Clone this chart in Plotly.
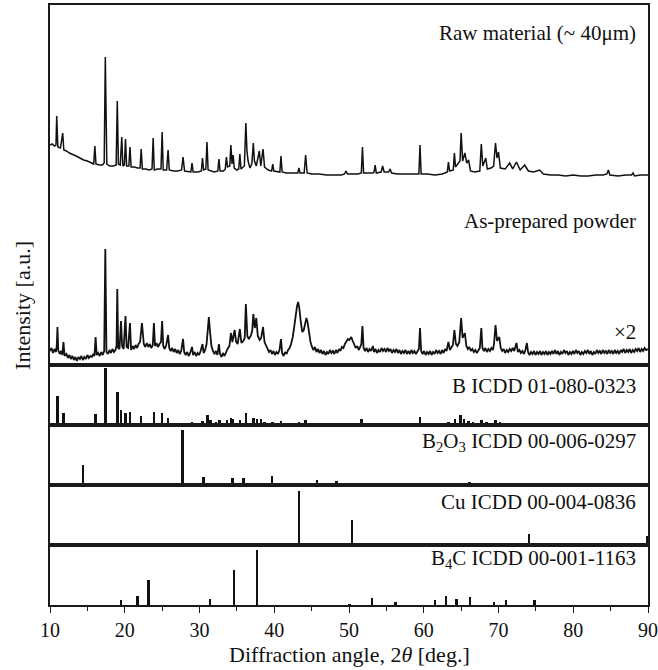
import plotly.graph_objects as go
from plotly.subplots import make_subplots

# ---------------------------------------------------------------------------
# Measured XRD patterns: (2theta [deg], intensity [a.u.]) on a common offset scale
# ---------------------------------------------------------------------------
RAW_MATERIAL = [
    (10.0, 221), (10.3, 222), (10.6, 220), (10.8, 221), (10.9, 250), (11.05, 219),
    (11.4, 218), (11.7, 233), (11.85, 216), (12.2, 215), (12.6, 213), (13.0, 212),
    (13.5, 210), (14.0, 208), (14.5, 206), (15.0, 205), (15.5, 203), (15.85, 202),
    (16.0, 220), (16.15, 202), (16.6, 201), (17.0, 201), (17.25, 203), (17.4, 309),
    (17.6, 202), (18.0, 200), (18.5, 200), (18.85, 201), (19.0, 265), (19.15, 202),
    (19.4, 201), (19.6, 229), (19.75, 200), (19.95, 201), (20.1, 227), (20.25, 200),
    (20.55, 200), (20.7, 219), (20.85, 199), (21.3, 199), (21.7, 198), (22.05, 198),
    (22.2, 217), (22.35, 197), (22.8, 197), (23.3, 196), (23.65, 197), (23.8, 228),
    (23.95, 196), (24.4, 197), (24.85, 197), (25.0, 234), (25.15, 196), (25.6, 196),
    (25.8, 216), (25.95, 196), (26.5, 195), (27.1, 195), (27.6, 196), (27.8, 209),
    (28.0, 195), (28.5, 194), (28.85, 194), (29.0, 203), (29.15, 194), (29.8, 194),
    (30.25, 195), (30.4, 208), (30.55, 196), (30.85, 197), (31.0, 224), (31.15, 196),
    (31.6, 195), (32.0, 194), (32.45, 195), (32.6, 207), (32.75, 195), (33.2, 195),
    (33.45, 197), (33.6, 209), (33.75, 199), (34.05, 200), (34.2, 221), (34.35, 202),
    (34.5, 211), (34.65, 198), (35.0, 196), (35.25, 197), (35.4, 212), (35.55, 197),
    (36.0, 200), (36.2, 243), (36.35, 215), (36.5, 205), (36.75, 198), (37.0, 202),
    (37.2, 223), (37.35, 205), (37.6, 200), (38.0, 215), (38.2, 200), (38.5, 217),
    (38.7, 199), (39.2, 196), (39.65, 195), (39.8, 202), (39.95, 195), (40.5, 194),
    (40.75, 194), (40.9, 210), (41.05, 194), (41.6, 193), (42.2, 193), (42.8, 193),
    (43.15, 193), (43.3, 198), (43.45, 193), (44.0, 193), (44.2, 211), (44.4, 193),
    (45.0, 192), (46.0, 192), (47.0, 191), (48.0, 191), (49.0, 191), (49.4, 192),
    (49.6, 195), (49.8, 192), (50.5, 192), (51.2, 192), (51.65, 193), (51.8, 219),
    (51.95, 193), (52.5, 193), (53.2, 193), (53.35, 194), (53.5, 201), (53.65, 193),
    (54.3, 194), (54.5, 200), (54.7, 194), (55.3, 194), (55.5, 197), (55.7, 193),
    (56.5, 192), (57.5, 192), (58.5, 192), (59.35, 192), (59.5, 221), (59.65, 192),
    (60.5, 192), (61.5, 191), (62.5, 192), (63.15, 194), (63.3, 204), (63.45, 195),
    (63.95, 196), (64.1, 213), (64.25, 199), (64.85, 205), (65.0, 233), (65.2, 205),
    (65.5, 213), (65.75, 203), (66.0, 206), (66.25, 195), (66.8, 194), (67.5, 195),
    (67.7, 222), (67.9, 200), (68.3, 208), (68.5, 197), (69.0, 198), (69.35, 200),
    (69.6, 223), (69.8, 208), (70.0, 214), (70.25, 198), (70.9, 197), (71.5, 203),
    (71.9, 197), (72.4, 204), (72.9, 196), (73.5, 201), (74.0, 195), (74.7, 194),
    (75.5, 196), (76.0, 192), (77.0, 191), (78.0, 191), (79.0, 190), (80.0, 191),
    (81.0, 190), (82.0, 190), (83.0, 191), (84.0, 191), (84.5, 192), (84.7, 196),
    (84.9, 191), (86.0, 190), (87.0, 191), (87.8, 191), (88.0, 193), (88.2, 190),
    (89.0, 191), (90.0, 191),
]

AS_PREPARED = [
    (10.0, 15), (10.2, 18), (10.4, 13), (10.6, 17), (10.8, 14), (10.9, 20), (11.0, 39),
    (11.1, 16), (11.3, 12), (11.5, 15), (11.65, 11), (11.8, 24), (11.95, 10), (12.2, 12),
    (12.4, 8), (12.6, 11), (12.8, 7), (13.0, 10), (13.2, 6), (13.4, 9), (13.6, 5),
    (13.8, 9), (14.0, 7), (14.2, 10), (14.4, 6), (14.6, 9), (14.8, 7), (15.0, 11),
    (15.2, 8), (15.4, 10), (15.6, 9), (15.8, 12), (15.95, 10), (16.1, 29), (16.25, 11),
    (16.45, 13), (16.65, 10), (16.85, 14), (17.05, 11), (17.25, 15), (17.4, 117),
    (17.55, 14), (17.75, 12), (17.95, 16), (18.15, 13), (18.35, 17), (18.55, 14),
    (18.75, 16), (18.9, 20), (19.0, 77), (19.12, 18), (19.3, 17), (19.5, 45), (19.65, 20),
    (19.85, 17), (20.1, 50), (20.25, 19), (20.45, 18), (20.7, 43), (20.85, 16),
    (21.05, 20), (21.25, 17), (21.45, 21), (21.65, 18), (21.85, 22), (22.05, 24),
    (22.3, 43), (22.55, 22), (22.75, 19), (22.95, 23), (23.15, 19), (23.35, 22),
    (23.55, 18), (23.75, 21), (23.9, 43), (24.05, 20), (24.25, 23), (24.45, 19),
    (24.65, 22), (24.85, 24), (25.0, 45), (25.15, 20), (25.35, 17), (25.55, 21),
    (25.8, 31), (25.95, 18), (26.15, 15), (26.35, 18), (26.55, 14), (26.75, 17),
    (26.95, 13), (27.15, 16), (27.35, 12), (27.55, 15), (27.8, 27), (27.95, 14),
    (28.15, 11), (28.35, 14), (28.55, 10), (28.75, 13), (29.0, 19), (29.15, 11),
    (29.35, 14), (29.55, 10), (29.75, 13), (29.95, 11), (30.15, 15), (30.4, 22),
    (30.55, 13), (30.75, 16), (30.95, 22), (31.1, 38), (31.25, 49), (31.4, 35),
    (31.6, 20), (31.8, 15), (32.0, 12), (32.2, 15), (32.4, 11), (32.6, 22), (32.75, 12),
    (32.95, 9), (33.15, 13), (33.35, 10), (33.55, 14), (33.75, 17), (34.0, 20),
    (34.2, 33), (34.4, 24), (34.7, 36), (34.9, 24), (35.1, 22), (35.4, 37), (35.6, 23),
    (35.85, 25), (36.05, 28), (36.2, 62), (36.4, 30), (36.6, 27), (36.85, 30),
    (37.05, 35), (37.2, 52), (37.4, 38), (37.6, 48), (37.8, 30), (38.05, 26),
    (38.25, 28), (38.5, 39), (38.7, 24), (38.9, 20), (39.1, 17), (39.3, 14), (39.5, 16),
    (39.7, 12), (39.9, 15), (40.1, 11), (40.3, 14), (40.5, 12), (40.7, 16), (40.9, 27),
    (41.05, 13), (41.25, 10), (41.45, 14), (41.65, 12), (41.85, 16), (42.05, 18),
    (42.25, 22), (42.45, 28), (42.65, 38), (42.85, 50), (43.05, 60), (43.2, 64),
    (43.35, 58), (43.55, 44), (43.75, 34), (43.95, 36), (44.15, 45), (44.3, 48),
    (44.45, 44), (44.65, 32), (44.85, 24), (45.05, 19), (45.25, 16), (45.45, 19),
    (45.65, 14), (45.85, 17), (46.05, 13), (46.25, 16), (46.45, 12), (46.65, 15),
    (46.85, 11), (47.05, 14), (47.25, 12), (47.45, 16), (47.65, 13), (47.85, 15),
    (48.05, 12), (48.25, 16), (48.45, 13), (48.65, 17), (48.85, 15), (49.05, 19),
    (49.25, 18), (49.45, 22), (49.65, 24), (49.85, 27), (50.05, 26), (50.3, 29),
    (50.5, 25), (50.7, 21), (50.9, 18), (51.1, 20), (51.3, 16), (51.5, 19), (51.65, 22),
    (51.8, 40), (51.95, 18), (52.15, 15), (52.35, 18), (52.55, 14), (52.75, 17),
    (52.95, 15), (53.2, 20), (53.35, 14), (53.55, 17), (53.75, 13), (53.95, 16),
    (54.15, 14), (54.35, 18), (54.55, 15), (54.75, 17), (54.95, 14), (55.15, 18),
    (55.35, 15), (55.55, 17), (55.75, 13), (55.95, 16), (56.15, 14), (56.35, 17),
    (56.55, 13), (56.75, 16), (56.95, 12), (57.15, 15), (57.35, 13), (57.55, 16),
    (57.75, 12), (57.95, 15), (58.15, 12), (58.35, 16), (58.55, 13), (58.75, 15),
    (58.95, 12), (59.15, 14), (59.35, 17), (59.5, 38), (59.65, 15), (59.85, 12),
    (60.05, 15), (60.25, 11), (60.45, 14), (60.65, 12), (60.85, 15), (61.05, 11),
    (61.25, 14), (61.45, 12), (61.65, 16), (61.85, 13), (62.05, 15), (62.25, 12),
    (62.45, 16), (62.65, 13), (62.85, 17), (63.05, 15), (63.3, 24), (63.5, 16),
    (63.7, 19), (63.9, 21), (64.1, 36), (64.3, 22), (64.5, 20), (64.75, 24), (65.0, 48),
    (65.2, 28), (65.5, 33), (65.7, 20), (65.9, 17), (66.1, 19), (66.3, 15), (66.5, 17),
    (66.7, 14), (66.9, 16), (67.1, 13), (67.3, 16), (67.5, 18), (67.7, 38), (67.85, 18),
    (68.05, 15), (68.25, 18), (68.45, 14), (68.65, 17), (68.85, 15), (69.05, 18),
    (69.25, 16), (69.4, 22), (69.6, 41), (69.8, 25), (70.1, 29), (70.3, 18), (70.5, 15),
    (70.7, 17), (70.9, 13), (71.1, 16), (71.3, 14), (71.5, 17), (71.7, 15), (71.9, 18),
    (72.1, 15), (72.4, 23), (72.6, 14), (72.8, 16), (73.0, 13), (73.2, 15), (73.4, 12),
    (73.6, 16), (73.8, 23), (73.95, 14), (74.15, 11), (74.35, 14), (74.55, 12),
    (74.75, 15), (74.95, 11), (75.15, 14), (75.35, 12), (75.55, 15), (75.75, 11),
    (75.95, 14), (76.15, 12), (76.35, 15), (76.55, 11), (76.75, 14), (76.95, 12),
    (77.15, 15), (77.35, 12), (77.55, 16), (77.75, 12), (77.95, 15), (78.15, 11),
    (78.35, 14), (78.55, 12), (78.75, 16), (78.95, 13), (79.15, 15), (79.35, 11),
    (79.55, 14), (79.75, 12), (79.95, 15), (80.15, 12), (80.35, 16), (80.55, 13),
    (80.75, 15), (80.95, 11), (81.15, 14), (81.35, 12), (81.55, 15), (81.75, 13),
    (81.95, 16), (82.15, 12), (82.35, 15), (82.55, 11), (82.75, 14), (82.95, 12),
    (83.15, 16), (83.35, 13), (83.55, 15), (83.75, 12), (83.95, 16), (84.15, 13),
    (84.35, 15), (84.55, 12), (84.75, 16), (84.95, 13), (85.15, 15), (85.35, 12),
    (85.55, 16), (85.75, 13), (85.95, 15), (86.15, 12), (86.35, 16), (86.55, 14),
    (86.75, 17), (86.95, 13), (87.15, 16), (87.35, 14), (87.55, 17), (87.75, 13),
    (87.95, 16), (88.15, 14), (88.35, 17), (88.55, 15), (88.75, 18), (88.95, 14),
    (89.15, 17), (89.35, 15), (89.55, 18), (89.75, 16), (90.0, 17),
]

# ---------------------------------------------------------------------------
# Reference stick patterns: (2theta [deg], relative intensity)
# ---------------------------------------------------------------------------
B_ICDD = [
    (11.0, 29), (11.8, 12), (16.1, 11), (17.4, 57), (19.0, 33), (19.5, 15), (20.1, 12),
    (20.7, 13), (22.2, 9), (23.9, 13), (25.0, 12), (25.8, 7), (26.4, 2), (29.0, 3),
    (30.4, 4), (31.1, 10), (31.5, 5), (32.2, 3), (32.7, 5), (33.7, 5), (34.2, 7),
    (34.5, 6), (35.4, 5), (36.2, 12), (37.2, 7), (37.7, 6), (38.2, 6), (38.7, 3),
    (39.8, 3), (40.9, 4), (42.5, 2), (43.3, 3), (44.2, 5), (44.6, 2), (49.7, 2),
    (50.6, 2), (51.7, 6), (53.9, 2), (55.0, 2), (55.9, 2), (56.8, 2), (59.5, 8),
    (63.3, 3), (64.2, 6), (64.9, 10), (65.4, 6), (66.0, 4), (66.6, 3), (67.7, 5),
    (68.4, 3), (69.6, 5), (70.2, 3), (71.5, 2), (72.4, 2), (73.8, 2), (75.6, 1.5),
    (80.0, 1.5),
]
B2O3_ICDD = [
    (14.4, 20), (27.7, 55), (30.5, 8), (34.4, 7), (35.9, 7), (39.7, 9), (45.7, 5),
    (48.3, 4), (54.5, 2), (57.5, 2), (66.1, 3),
]
CU_ICDD = [(43.3, 54), (50.4, 25), (74.1, 11), (89.9, 9)]
B4C_ICDD = [
    (19.5, 5), (21.7, 9), (23.2, 25), (31.4, 6), (34.6, 35), (37.7, 55), (50.1, 1),
    (53.1, 7), (56.2, 3), (61.5, 5), (63.0, 9), (64.4, 6), (66.2, 8), (69.4, 3),
    (71.0, 5), (74.8, 5),
]

PATTERN_LABELS = ["Raw material (~ 40μm)", "As-prepared powder"]
SCALE_NOTE = "×2"
STICK_LABELS = [
    "B ICDD 01-080-0323",
    "B<sub>2</sub>O<sub>3</sub> ICDD 00-006-0297",
    "Cu ICDD 00-004-0836",
    "B<sub>4</sub>C ICDD 00-001-1163",
]
X_TICKS = [10, 20, 30, 40, 50, 60, 70, 80, 90]

FONT = "Times New Roman, Liberation Serif, serif"
INK = "#111111"

fig = make_subplots(rows=5, cols=1, shared_xaxes=True, vertical_spacing=0,
                    row_heights=[0.6, 0.1, 0.1, 0.1, 0.1])

for pattern, lw in ((RAW_MATERIAL, 1.5), (AS_PREPARED, 1.8)):
    fig.add_trace(go.Scatter(x=[p[0] for p in pattern], y=[p[1] for p in pattern],
                             mode="lines", line=dict(color=INK, width=lw),
                             showlegend=False, hoverinfo="skip"), row=1, col=1)

for row, sticks in enumerate([B_ICDD, B2O3_ICDD, CU_ICDD, B4C_ICDD], start=2):
    fig.add_trace(go.Bar(x=[s[0] for s in sticks], y=[s[1] for s in sticks],
                         width=0.34, marker=dict(color=INK, line=dict(width=0)),
                         showlegend=False, hoverinfo="skip"), row=row, col=1)

frame = dict(showline=True, mirror=True, linecolor="#1a1a1a", linewidth=1.5,
             showgrid=False, zeroline=False, automargin=False)

for row in range(1, 6):
    fig.update_xaxes(range=[10, 90], row=row, col=1, **frame)
    fig.update_yaxes(showticklabels=False, ticks="", row=row, col=1, **frame)
    if row < 5:
        fig.update_xaxes(showticklabels=False, ticks="", row=row, col=1)

fig.update_yaxes(range=[1, 361], row=1, col=1)
for row in range(2, 6):
    fig.update_yaxes(range=[0, 60], row=row, col=1)

fig.update_xaxes(row=5, col=1, tickmode="array", tickvals=X_TICKS,
                 ticktext=[str(t) for t in X_TICKS], ticks="outside", ticklen=6,
                 tickwidth=1.3, tickcolor="#1a1a1a",
                 tickfont=dict(family=FONT, size=20, color=INK),
                 minor=dict(ticks="outside", ticklen=4, tickwidth=1.3,
                            tickcolor="#1a1a1a", dtick=5, tick0=5))

label_font = dict(family=FONT, size=21, color=INK)
annotations = [
    dict(text=PATTERN_LABELS[0], xref="paper", yref="y", x=0.983, y=333,
         xanchor="right", yanchor="middle", showarrow=False, font=label_font),
    dict(text=PATTERN_LABELS[1], xref="paper", yref="y", x=0.983, y=145,
         xanchor="right", yanchor="middle", showarrow=False, font=label_font),
    dict(text=SCALE_NOTE, xref="paper", yref="y", x=0.983, y=34,
         xanchor="right", yanchor="middle", showarrow=False, font=label_font),
]
for i, (label, yv) in enumerate(zip(STICK_LABELS, [39, 43, 43, 46])):
    annotations.append(dict(text=label, xref="paper", yref=f"y{i + 2}", x=0.983, y=yv,
                            xanchor="right", yanchor="middle", showarrow=False,
                            font=label_font))
annotations.append(dict(text="Intensity [a.u.]", xref="paper", yref="paper",
                        x=-0.047, y=0.5, textangle=-90, xanchor="center",
                        yanchor="middle", showarrow=False,
                        font=dict(family=FONT, size=22, color=INK)))
annotations.append(dict(text="Diffraction angle, 2<i>θ</i> [deg.]", xref="paper",
                        yref="paper", x=0.5, y=-0.083, xanchor="center",
                        yanchor="middle", showarrow=False,
                        font=dict(family=FONT, size=22, color=INK)))

fig.update_layout(width=658, height=670, margin=dict(l=50, r=10, t=5, b=65),
                  paper_bgcolor="white", plot_bgcolor="white",
                  font=dict(family=FONT, color=INK), annotations=annotations,
                  bargap=0)

fig.write_html("out.html")
